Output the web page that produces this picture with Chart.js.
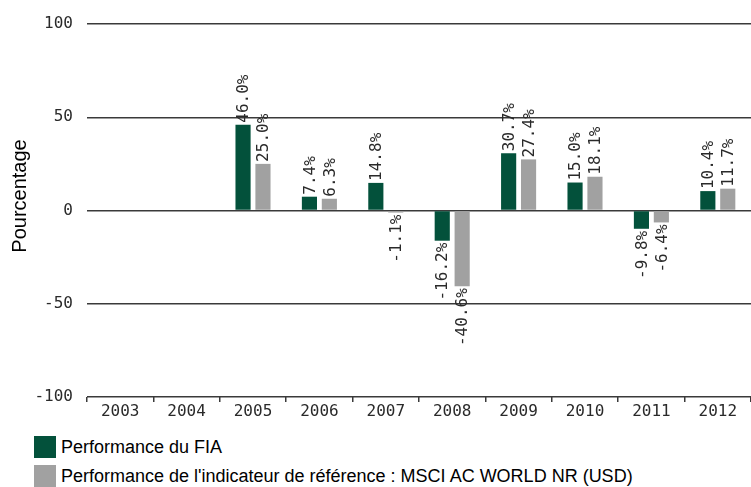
<!DOCTYPE html>
<html lang="fr">
<head>
    <meta charset="UTF-8">
    <title>Performance du FIA</title>
    <script src="https://cdn.jsdelivr.net/npm/chart.js"></script>
    <style>
        body {
            margin: 0;
            padding: 0;
            background-color: #fff;
            width: 751px;
            height: 487px;
            overflow: hidden;
            position: relative;
        }

        #chart-box {
            position: absolute;
            left: 0;
            top: 0;
            width: 751px;
            height: 425px;
        }

        #legend {
            position: absolute;
            left: 34px;
            top: 436px;
            font-family: 'Liberation Sans', Arial, sans-serif;
            font-size: 18px;
            color: #000;
        }

        .legend-item {
            display: flex;
            align-items: center;
            height: 22px;
            margin-bottom: 7px;
            white-space: nowrap;
        }

        .legend-box {
            width: 22px;
            height: 22px;
            margin-right: 5px;
        }
    </style>
</head>
<body>
    <div id="chart-box">
        <canvas id="perfChart" width="751" height="425"></canvas>
    </div>
    <div id="legend"></div>

    <script>
        // Données
        var annees = ['2003', '2004', '2005', '2006', '2007', '2008', '2009', '2010', '2011', '2012'];
        var perfFia = [null, null, 46.0, 7.4, 14.8, -16.2, 30.7, 15.0, -9.8, 10.4];
        var perfIndice = [null, null, 25.0, 6.3, -1.1, -40.6, 27.4, 18.1, -6.4, 11.7];
        var ticksY = [-100, -50, 0, 50, 100];

        var nomFia = 'Performance du FIA';
        var nomIndice = "Performance de l'indicateur de référence : MSCI AC WORLD NR (USD)";
        var titreY = 'Pourcentage';
        var vert = '#03513b';
        var gris = '#a1a1a1';
        var mono = "'DejaVu Sans Mono', monospace";

        // Étiquettes verticales au bout des barres
        var etiquettesBarres = {
            id: 'etiquettesBarres',
            afterDatasetsDraw: function (chart) {
                var ctx = chart.ctx;
                ctx.save();
                ctx.font = '16px ' + mono;
                ctx.fillStyle = '#2a2a2a';
                ctx.textBaseline = 'middle';
                chart.data.datasets.forEach(function (ds, i) {
                    var meta = chart.getDatasetMeta(i);
                    meta.data.forEach(function (bar, j) {
                        var v = ds.data[j];
                        if (v === null) return;
                        ctx.save();
                        ctx.translate(bar.x + 1, v >= 0 ? bar.y - 2 : bar.y + 2);
                        ctx.rotate(-Math.PI / 2);
                        ctx.textAlign = v >= 0 ? 'left' : 'right';
                        ctx.fillText(v.toFixed(1) + '%', 0, 0);
                        ctx.restore();
                    });
                });
                ctx.restore();
            }
        };

        // Titre de l'axe vertical (un peu au-dessus du centre, comme l'original)
        var titreAxeY = {
            id: 'titreAxeY',
            afterDraw: function (chart) {
                var ctx = chart.ctx;
                ctx.save();
                ctx.font = "20px 'Liberation Sans', Arial, sans-serif";
                ctx.fillStyle = '#000';
                ctx.textAlign = 'center';
                ctx.textBaseline = 'alphabetic';
                ctx.translate(26, 196);
                ctx.rotate(-Math.PI / 2);
                ctx.fillText(titreY, 0, 0);
                ctx.restore();
            }
        };

        var ctx = document.getElementById('perfChart').getContext('2d');
        var perfChart = new Chart(ctx, {
            type: 'bar',
            data: {
                labels: annees,
                datasets: [{
                    label: nomFia,
                    data: perfFia,
                    backgroundColor: vert,
                    categoryPercentage: 0.6,
                    barPercentage: 0.76
                }, {
                    label: nomIndice,
                    data: perfIndice,
                    backgroundColor: gris,
                    categoryPercentage: 0.6,
                    barPercentage: 0.76
                }]
            },
            options: {
                responsive: false,
                animation: false,
                layout: {
                    padding: { left: 8, top: 24, right: 0, bottom: 0 }
                },
                plugins: {
                    legend: { display: false },
                    tooltip: { enabled: false }
                },
                scales: {
                    x: {
                        grid: {
                            drawOnChartArea: false,
                            drawTicks: true,
                            tickLength: 5,
                            color: '#3a3a3a',
                            lineWidth: 1.5
                        },
                        border: { display: false },
                        ticks: {
                            font: { family: mono, size: 16 },
                            color: '#2a2a2a',
                            padding: 0,
                            maxRotation: 0,
                            autoSkip: false
                        },
                        afterFit: function (scale) { scale.height = 28; }
                    },
                    y: {
                        min: -100,
                        max: 100,
                        afterBuildTicks: function (scale) {
                            scale.ticks = ticksY.map(function (v) { return { value: v }; });
                        },
                        grid: {
                            drawTicks: false,
                            color: '#3a3a3a',
                            lineWidth: 1.5
                        },
                        border: { display: false },
                        ticks: {
                            font: { family: mono, size: 16 },
                            color: '#2a2a2a',
                            padding: 14
                        },
                        afterFit: function (scale) { scale.width = 79; }
                    }
                }
            },
            plugins: [etiquettesBarres, titreAxeY]
        });

        // Légende sous le graphique
        var legende = document.getElementById('legend');
        perfChart.data.datasets.forEach(function (ds) {
            var item = document.createElement('div');
            item.className = 'legend-item';
            var carre = document.createElement('span');
            carre.className = 'legend-box';
            carre.style.backgroundColor = ds.backgroundColor;
            var texte = document.createElement('span');
            texte.textContent = ds.label;
            item.appendChild(carre);
            item.appendChild(texte);
            legende.appendChild(item);
        });
    </script>
</body>
</html>
